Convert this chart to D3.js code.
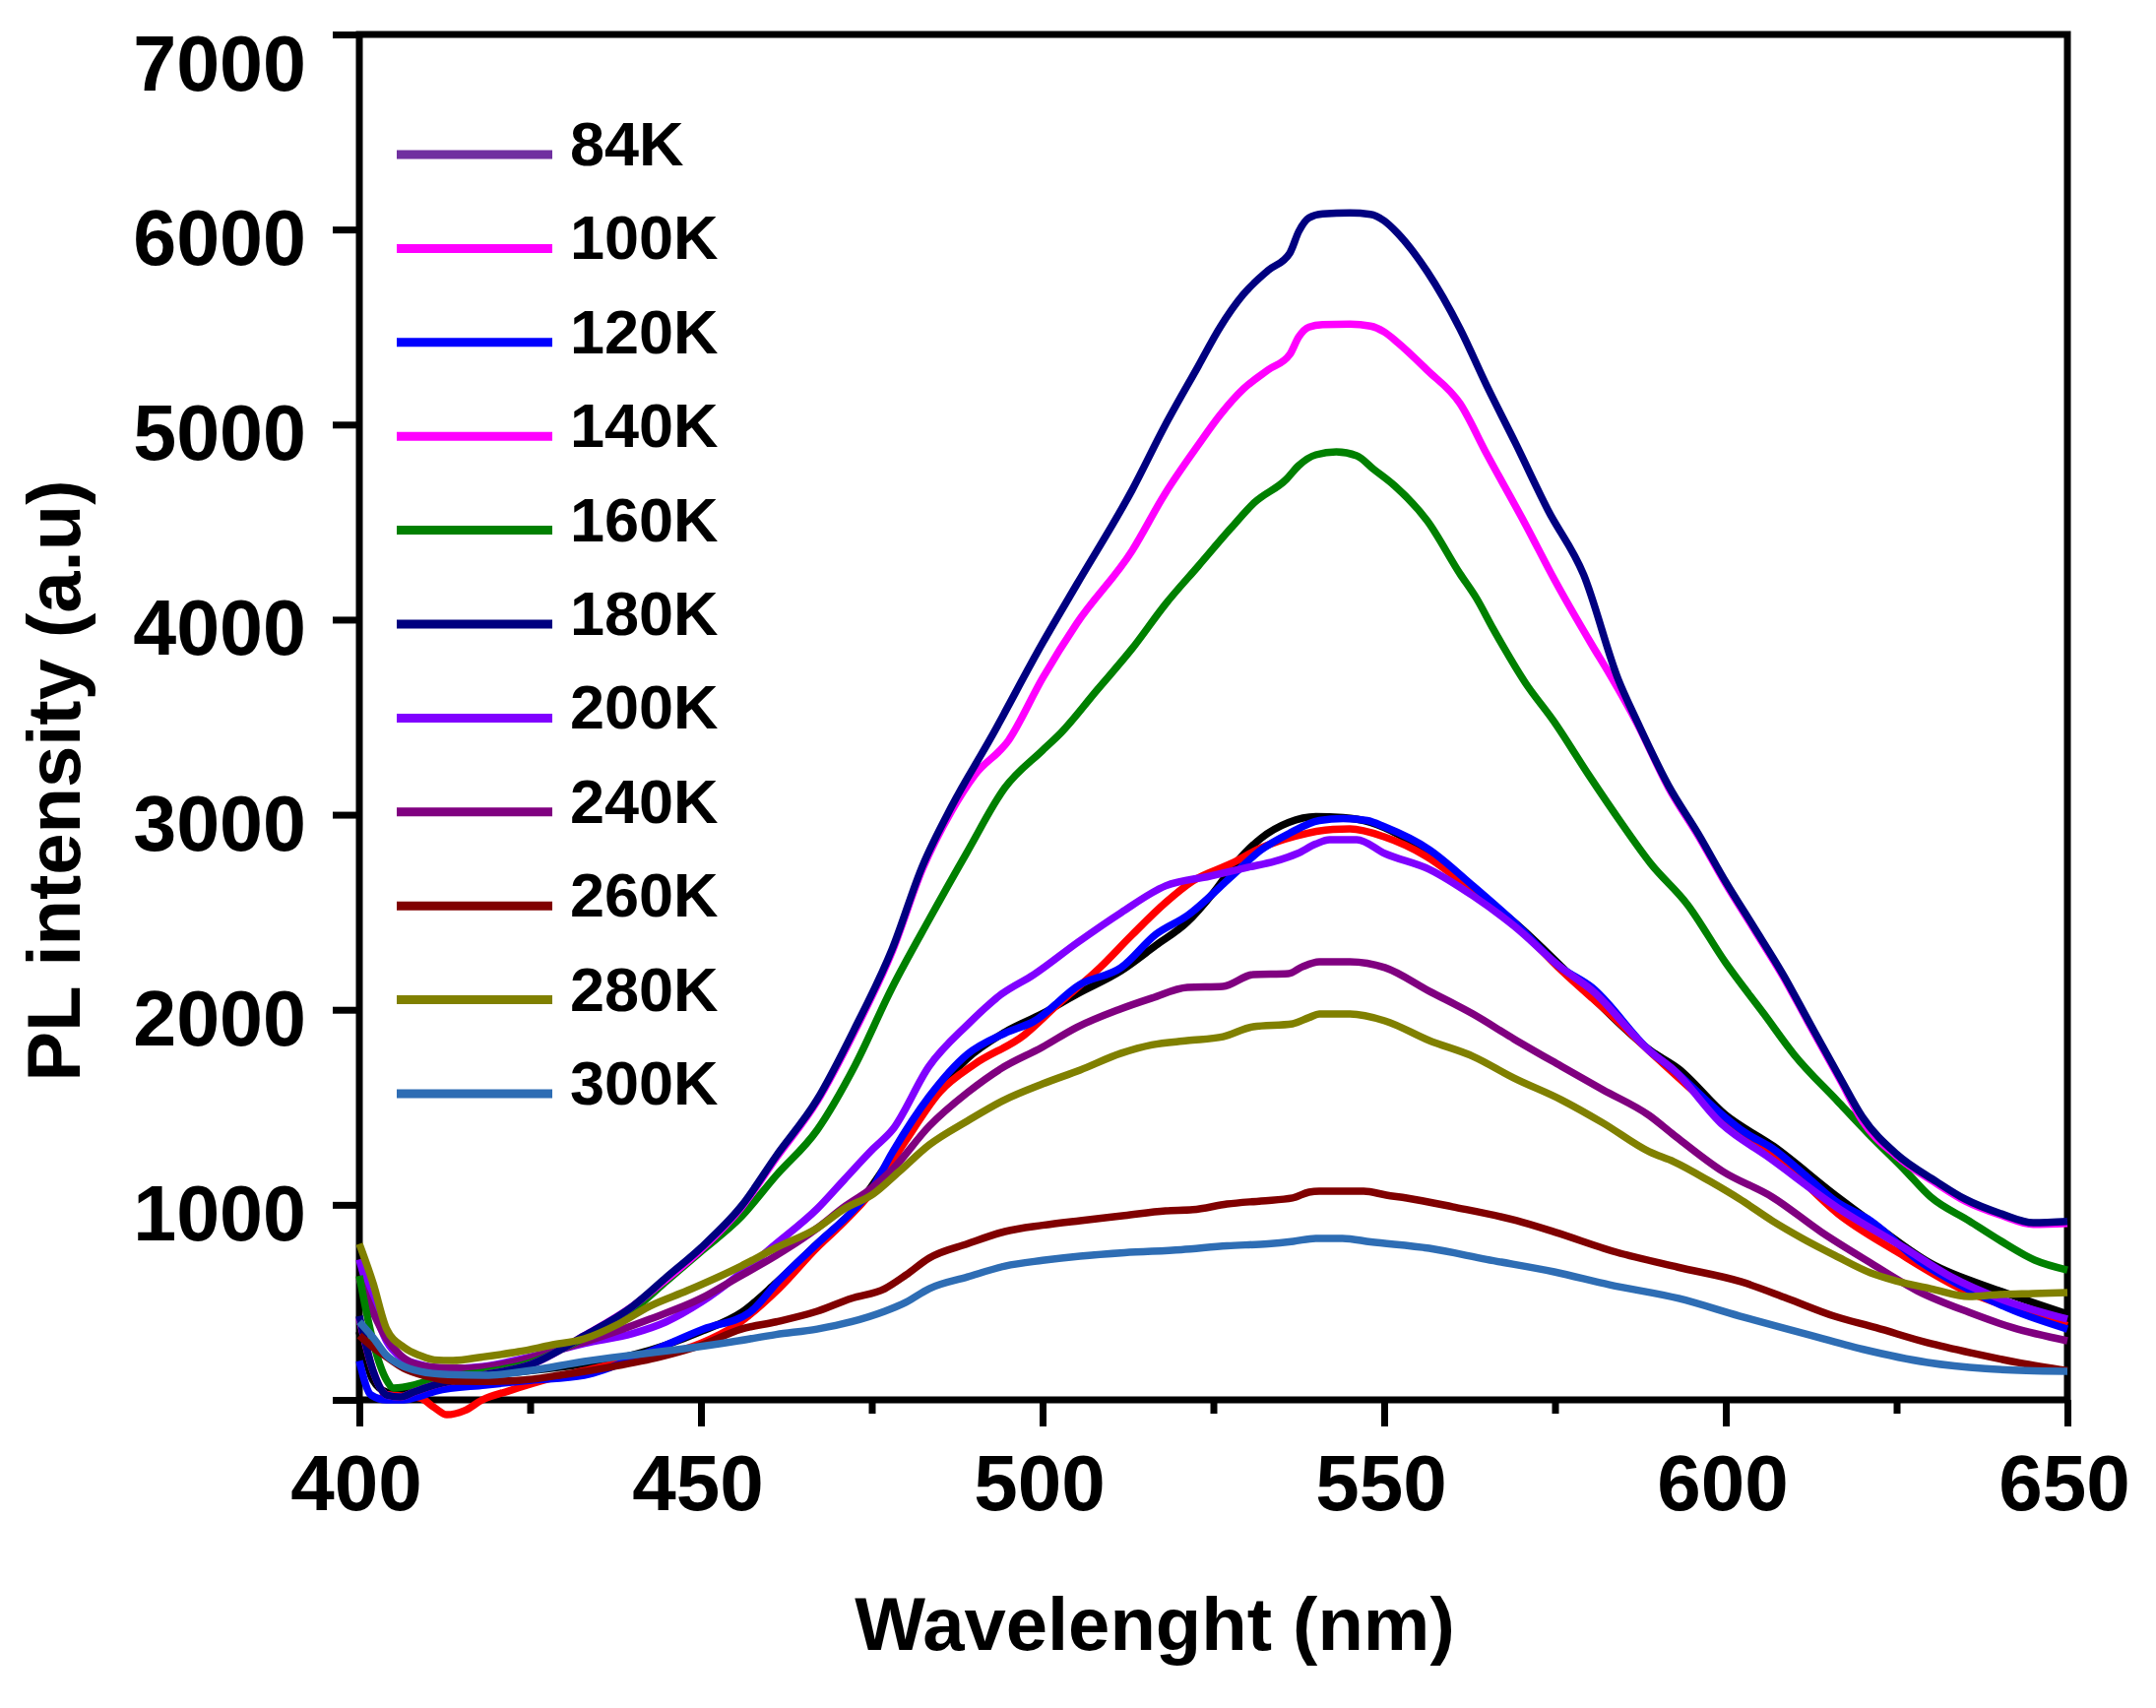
<!DOCTYPE html>
<html>
<head>
<meta charset="utf-8">
<script src="https://cdn.jsdelivr.net/npm/d3@7"></script>
<style>
  html, body { margin: 0; padding: 0; background: #fff; }
  svg { display: block; }
  text { font-family: "Liberation Sans", Arial, sans-serif; font-weight: bold; fill: #000; }
</style>
</head>
<body>
<svg id="chart" width="2190" height="1735"></svg>
<script>
// ---------- data ----------
const xTicks = [400, 450, 500, 550, 600, 650];
const xMinorTicks = [425, 475, 525, 575, 625];
const yTicks = [0, 1000, 2000, 3000, 4000, 5000, 6000, 7000];
const yTickLabels = ["", "1000", "2000", "3000", "4000", "5000", "6000", "7000"];

const legendLabels = ["84K", "100K", "120K", "140K", "160K", "180K", "200K", "240K", "260K", "280K", "300K"];
const legendColors = ["#7030A0", "#FF00FF", "#0000FF", "#FF00FF", "#008000", "#000080", "#8000FF", "#800080", "#800000", "#808000", "#2E6DB4"];

// [wavelength nm, PL intensity]
const curveBlack = [[400,350],[402,100],[404,40],[406,30],[409,60],[413,100],[420,130],[430,170],[440,230],[450,350],[456,450],[461,600],[467,800],[472.5,979],[478,1250],[483.4,1530],[489,1750],[494.5,1885],[500,1980],[505,2080],[511.5,2200],[516.6,2330],[521.2,2450],[525,2600],[528,2740],[532,2880],[536,2960],[540,2990],[544,2985],[548,2960],[552,2900],[556.6,2800],[563,2620],[570,2420],[576,2220],[580,2080],[589,1790],[593,1700],[600,1460],[607,1300],[616,1050],[621,920],[630,700],[640,560],[650,440]];
const curveRed = [[403,30],[406,20],[408.9,10],[411,-40],[412.8,-76],[415.4,-55],[418,0],[421.8,45],[428,110],[433,150],[438,190],[444.3,227],[450,290],[455,380],[461.4,570],[467,780],[470,880],[475.2,1075],[480,1330],[485,1580],[490,1720],[497.3,1870],[502,2020],[508.4,2216],[513,2380],[518,2549],[522,2660],[527.7,2751],[532,2830],[537,2890],[542.5,2925],[545,2927],[550,2887],[556,2790],[563,2610],[570,2410],[576,2200],[583,1980],[590,1750],[600,1440],[608,1230],[616.4,955],[625,760],[635,560],[642,470],[650,380]];
const curve120K = [[400,200],[401.7,25],[404,0],[406.5,0],[409,20],[411.2,45],[418.4,76],[425,100],[432.9,126],[442.5,247],[450.4,363],[457.2,450],[461.4,611],[467,800],[472.5,979],[475,1080],[478,1267],[483.4,1555],[489,1772],[494.5,1880],[498.7,1940],[505.5,2130],[511.5,2216],[516.6,2387],[521.2,2483],[527.7,2685],[532,2820],[536,2902],[540.5,2970],[544,2980],[547.5,2970],[550.1,2937],[556.6,2821],[563,2635],[569,2450],[575.9,2216],[580.4,2115],[588.8,1792],[592.4,1690],[599.6,1458],[602.7,1373],[606.8,1290],[612,1140],[616,1020],[621.2,918],[628,720],[635.6,565],[642,460],[650,363]];
const curve200K = [[400,720],[402,480],[404,300],[406,220],[409,180],[413,160],[418,170],[425,220],[433,290],[440,340],[444.9,400],[450,500],[455.9,651],[461,800],[467,979],[471,1130],[475.2,1287],[478,1383],[483.4,1711],[489,1923],[494,2080],[498.7,2180],[505.2,2347],[511.5,2498],[518,2635],[524.5,2685],[530,2730],[534,2761],[537.3,2801],[540,2850],[542,2872],[546,2872],[550.1,2801],[556.6,2720],[563,2584],[569,2430],[575.9,2216],[580.4,2100],[588.8,1790],[592.4,1691],[599.6,1408],[606,1250],[616.4,984],[626,782],[633,630],[640.4,515],[650,414]];
const curve240K = [[400,620],[402,450],[404,313],[406,230],[408.9,177],[412,165],[416,162],[422,190],[428.1,247],[435,320],[442.5,414],[450,520],[455,620],[461,740],[467,880],[471,990],[474.6,1075],[478,1180],[483.4,1403],[489,1575],[494,1700],[499.9,1807],[505,1910],[511,1999],[516,2060],[521.2,2115],[526.4,2120],[530.8,2180],[536,2185],[538,2220],[540.5,2246],[545,2246],[550.1,2216],[556.6,2095],[563,1978],[569,1850],[575.9,1711],[582,1590],[588.8,1458],[592.4,1358],[599.6,1170],[606.8,1040],[614,860],[621.2,702],[628,560],[635.6,449],[642,370],[650,303]];
const curve160K = [[400,636],[402,300],[404,100],[405,61],[408,76],[411,110],[418,140],[425,190],[433,320],[440,460],[445,610],[450,760],[455.9,939],[461,1150],[467,1383],[472.5,1711],[478,2115],[483.4,2463],[489,2811],[494.5,3139],[500,3330],[502.7,3420],[508,3640],[513.1,3851],[518,4080],[522.8,4275],[527.5,4466],[531,4600],[535.7,4720],[537.5,4790],[540,4845],[543,4860],[546,4840],[548.5,4770],[551.6,4684],[556.3,4507],[561.1,4235],[563.5,4110],[566,3950],[570.7,3674],[574.8,3480],[580,3200],[584.9,2948],[589,2750],[594.4,2539],[600,2240],[605.6,1978],[610,1770],[616.4,1530],[621,1360],[626,1186],[630,1040],[635.6,918],[640,820],[645.2,717],[650,666]];
const curve140K = [[400,420],[402,150],[404,25],[406,15],[408,40],[411,76],[418,126],[425,180],[433,330],[440,480],[445,620],[450,770],[456,990],[461,1240],[467,1530],[472.5,1890],[478,2300],[482.4,2720],[486.7,3020],[490,3200],[495,3380],[500,3700],[505,3980],[513.1,4353],[518,4650],[522.8,4896],[526,5050],[529.4,5183],[533,5280],[536.2,5360],[537.5,5450],[539,5500],[541,5512],[545,5515],[548,5505],[550,5475],[552,5420],[556.3,5279],[561.1,5108],[565,4850],[570.7,4487],[575,4200],[580.4,3871],[583,3720],[587,3470],[591.6,3140],[596,2890],[600,2645],[604,2420],[608.4,2170],[612,1940],[616.9,1630],[620,1430],[625,1250],[630.8,1110],[635,1020],[640.4,945],[645,900],[650,905]];
const curve180K = [[400,430],[402,150],[404,25],[406,15],[408,40],[411,76],[418,126],[425,180],[433,330],[440,480],[445,630],[450,780],[456,997],[461,1250],[467,1539],[472.5,1903],[478,2312],[482.4,2735],[486.7,3043],[492.4,3392],[500,3880],[505,4180],[513.1,4664],[518,5000],[522.8,5300],[526,5500],[529.4,5668],[533,5790],[536.2,5880],[537.5,5990],[539,6060],[541,6080],[545,6085],[548,6078],[550,6045],[552,5980],[556.3,5784],[561.1,5491],[565,5200],[569.2,4906],[574,4560],[579.2,4230],[584.3,3690],[587,3480],[591.6,3150],[596,2900],[600,2655],[604,2430],[608.4,2180],[612,1950],[616.9,1640],[620,1450],[625,1260],[630.8,1120],[635,1030],[640.4,953],[645,908],[650,915]];
const curve260K = [[400,330],[402,270],[404,220],[406.5,162],[410,120],[413.7,96],[418,95],[423.3,100],[430,130],[437,170],[444,220],[450,280],[455.9,363],[461,400],[467,454],[472,520],[476.9,570],[480,640],[483.4,727],[489,800],[494.5,863],[500,895],[505.5,919],[512,945],[518,969],[522,975],[527,1004],[532,1020],[536.6,1035],[539,1065],[540.5,1070],[547,1070],[550.3,1050],[553.3,1035],[560,990],[569.4,919],[575,860],[584,757],[593,680],[602.2,606],[609,520],[615.9,429],[622,370],[629.5,293],[636,240],[643,190],[650,150]];
const curve300K = [[400,400],[402,320],[404,227],[406,180],[408.9,146],[413,130],[418.4,126],[425,150],[432.9,197],[440,230],[447,260],[455,300],[461,335],[467,363],[472,400],[476.9,454],[480,500],[483.4,570],[489,630],[494.5,686],[500,715],[505.5,737],[512,755],[520.3,770],[527,790],[533,800],[536.7,813],[540,828],[543.9,828],[548,810],[556.6,777],[565,720],[574.9,656],[583,590],[593.1,520],[602,430],[611.2,343],[620,260],[629.5,192],[638,160],[644,150],[650,146]];
const curve280K = [[400,800],[402,600],[404,363],[406.5,270],[408.9,227],[411,205],[413.7,202],[418,220],[423.3,247],[428,280],[432.9,313],[438,390],[442.5,480],[448,560],[455.9,686],[461,780],[467,880],[471,980],[475.2,1055],[479,1170],[483.4,1307],[489,1430],[494.5,1539],[500,1620],[505.5,1691],[511.5,1777],[516,1820],[521.2,1842],[526.4,1862],[530.8,1913],[536.6,1928],[539,1960],[540.5,1978],[545,1978],[550.1,1943],[556.6,1842],[563,1761],[569,1650],[575.9,1539],[582,1420],[588.8,1272],[592.4,1221],[597.7,1120],[602,1030],[606.8,918],[611.2,828],[616,740],[621.2,651],[624.9,610],[630,570],[635.6,530],[640,540],[645,545],[650,550]];

// drawing order (bottom to top) and colours of the plotted curves
const curveNames  = ["black", "red", "120K", "200K", "240K", "160K", "140K", "180K", "260K", "300K", "280K"];
const curveColors = ["#000000", "#FF0000", "#0000FF", "#8000FF", "#800080", "#008000", "#FF00FF", "#000080", "#800000", "#2E6DB4", "#808000"];
const curveData   = [curveBlack, curveRed, curve120K, curve200K, curve240K, curve160K, curve140K, curve180K, curve260K, curve300K, curve280K];

// ---------- layout ----------
const L = 365, R = 2100, T = 35, B = 1422;
const svg = d3.select("#chart");

const x = d3.scaleLinear().domain([400, 650]).range([L, R]);
const y = d3.scaleLinear().domain([0, 7000]).range([B, T]);

const AXW = 7;

// y axis ticks (outward)
const yAxis = d3.axisLeft(y).tickValues(yTicks).tickSize(27).tickSizeOuter(0).tickFormat("");
const gy = svg.append("g").attr("transform", `translate(${L},0)`).call(yAxis);
gy.select(".domain").remove();
gy.selectAll(".tick line").attr("stroke", "#000").attr("stroke-width", AXW);

// y tick labels
svg.append("g").selectAll("text").data(yTicks).join("text")
  .attr("x", 311)
  .attr("y", d => Math.max(y(d) + 36, T + 57))
  .attr("text-anchor", "end")
  .attr("font-size", 79)
  .text((d, i) => yTickLabels[i]);

// x axis ticks
const xAxis = d3.axisBottom(x).tickValues(xTicks).tickSize(27).tickSizeOuter(0).tickFormat("");
const gx = svg.append("g").attr("transform", `translate(0,${B})`).call(xAxis);
gx.select(".domain").remove();
gx.selectAll(".tick line").attr("stroke", "#000").attr("stroke-width", AXW);

const xAxisMinor = d3.axisBottom(x).tickValues(xMinorTicks).tickSize(14).tickSizeOuter(0).tickFormat("");
const gxm = svg.append("g").attr("transform", `translate(0,${B})`).call(xAxisMinor);
gxm.select(".domain").remove();
gxm.selectAll(".tick line").attr("stroke", "#000").attr("stroke-width", AXW);

svg.append("g").selectAll("text").data(xTicks).join("text")
  .attr("x", d => x(d) - 3)
  .attr("y", 1534)
  .attr("text-anchor", "middle")
  .attr("font-size", 80)
  .text(d => d);

// frame
svg.append("rect")
  .attr("x", L).attr("y", T)
  .attr("width", R - L).attr("height", B - T)
  .attr("fill", "none").attr("stroke", "#000").attr("stroke-width", AXW);

// axis titles
svg.append("text")
  .attr("transform", "translate(81,793) rotate(-90)")
  .attr("text-anchor", "middle")
  .attr("font-size", 76)
  .text("PL intensity (a.u)");

svg.append("text")
  .attr("x", 1173).attr("y", 1676)
  .attr("text-anchor", "middle")
  .attr("font-size", 76)
  .text("Wavelenght (nm)");

// curves
const line = d3.line()
  .x(d => x(d[0]))
  .y(d => y(d[1]))
  .curve(d3.curveMonotoneX);

svg.append("g").selectAll("path").data(curveData).join("path")
  .attr("d", d => line(d))
  .attr("fill", "none")
  .attr("stroke", (d, i) => curveColors[i])
  .attr("stroke-width", 7.5)
  .attr("stroke-linejoin", "round")
  .attr("data-name", (d, i) => curveNames[i]);

// legend
const legY0 = 157, legDY = 95.4;
const leg = svg.append("g");
leg.selectAll("line").data(legendLabels).join("line")
  .attr("x1", 403).attr("x2", 561)
  .attr("y1", (d, i) => legY0 + i * legDY)
  .attr("y2", (d, i) => legY0 + i * legDY)
  .attr("stroke", (d, i) => legendColors[i])
  .attr("stroke-width", 9);
leg.selectAll("text").data(legendLabels).join("text")
  .attr("x", 579)
  .attr("y", (d, i) => legY0 + i * legDY + 11)
  .attr("font-size", 63)
  .text(d => d);
</script>
</body>
</html>
